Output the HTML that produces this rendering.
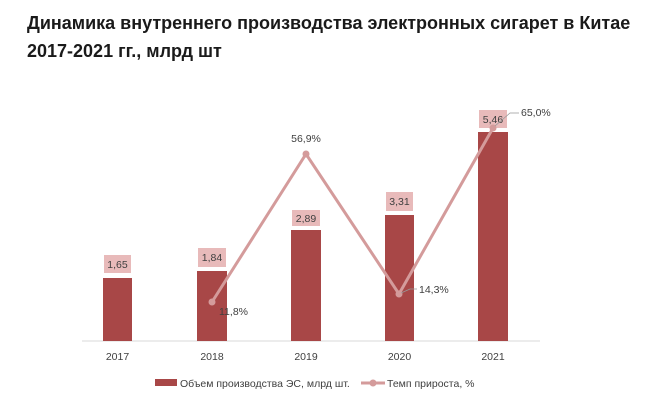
<!DOCTYPE html>
<html><head><meta charset="utf-8"><style>
body{margin:0;background:#fff;width:665px;height:411px;overflow:hidden;font-family:"Liberation Sans",sans-serif}
.t{position:absolute;left:27px;top:9px;font-weight:bold;font-size:18px;line-height:28px;color:#1a1a1a;white-space:nowrap}
</style></head><body>
<div class="t">Динамика внутреннего производства электронных сигарет в Китае<br>2017-2021 гг., млрд шт</div>
<svg width="665" height="411" style="position:absolute;left:0;top:0" font-family="Liberation Sans, sans-serif" font-size="10.5" fill="#404040">
<line x1="82" y1="341" x2="540" y2="341" stroke="#d9d9d9" stroke-width="1"/>
<g fill="#A84747">
<rect x="103" y="278" width="29" height="63"/>
<rect x="197" y="271" width="30" height="70"/>
<rect x="291" y="230" width="30" height="111"/>
<rect x="385" y="215" width="29" height="126"/>
<rect x="478" y="132" width="30" height="209"/>
</g>
<g fill="#E8BABA">
<rect x="104" y="255" width="27" height="18"/>
<rect x="198" y="248" width="28" height="19"/>
<rect x="292" y="210" width="28" height="16"/>
<rect x="386" y="192" width="27" height="19"/>
<rect x="479" y="110" width="28" height="18"/>
</g>
<g text-anchor="middle">
<text x="117.5" y="268">1,65</text>
<text x="212" y="261">1,84</text>
<text x="306" y="222">2,89</text>
<text x="399.5" y="205">3,31</text>
<text x="493" y="123">5,46</text>
<text x="306" y="142">56,9%</text>
<text x="117.5" y="360">2017</text><text x="212" y="360">2018</text><text x="306" y="360">2019</text><text x="399.5" y="360">2020</text><text x="493" y="360">2021</text>
</g>
<polyline points="212,302 306,154 399,294 493,128" fill="none" stroke="#D49B9B" stroke-width="3"/>
<g fill="#D49B9B"><circle cx="212" cy="302" r="3.5"/><circle cx="306" cy="154" r="3.5"/><circle cx="399" cy="294" r="3.5"/><circle cx="493" cy="128" r="3.5"/></g>
<polyline points="401,293 410,289 417,289" fill="none" stroke="#999" stroke-width="0.8"/>
<polyline points="495,126 510,113 519,113" fill="none" stroke="#999" stroke-width="0.8"/>
<text x="219" y="315">11,8%</text>
<text x="419" y="293">14,3%</text>
<text x="521" y="116">65,0%</text>
<rect x="155" y="379" width="22" height="7" fill="#A84747"/>
<text x="180" y="387">Объем производства ЭС, млрд шт.</text>
<line x1="361" y1="383" x2="385" y2="383" stroke="#D49B9B" stroke-width="3"/>
<circle cx="373" cy="383" r="3.5" fill="#D49B9B"/>
<text x="387" y="387">Темп прироста, %</text>
</svg>
</body></html>
